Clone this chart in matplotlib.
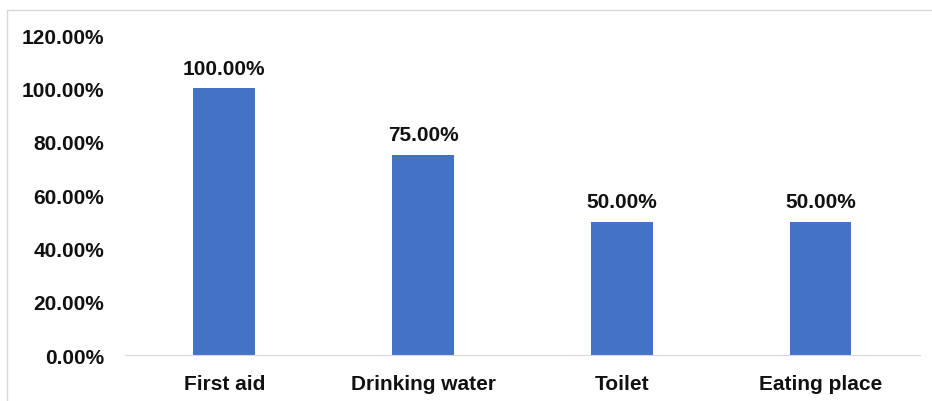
import matplotlib.pyplot as plt
from matplotlib.patches import Rectangle

# data
categories = ["First aid", "Drinking water", "Toilet", "Eating place"]
values = [100.0, 75.0, 50.0, 50.0]
yticks = [0, 20, 40, 60, 80, 100, 120]

plt.rcParams["font.family"] = ["Liberation Sans", "DejaVu Sans"]

fig = plt.figure(figsize=(9.32, 4.02), dpi=100)
ax = fig.add_axes([0.134, 0.1144, 0.853, 0.796])

# outer chart border
fig.patches.append(Rectangle((7 / 932, -0.05), 1.0, 1 - 11 / 402 + 0.05,
                             transform=fig.transFigure, fill=False,
                             edgecolor="#d9d9d9", linewidth=1.0))

x = range(len(categories))
ax.bar(x, values, width=0.31, color="#4472c4")
for xi, v in zip(x, values):
    ax.text(xi, v + 4, f"{v:.2f}%", ha="center", va="bottom",
            fontsize=15, fontweight="bold", color="#111111")

ax.set_xlim(-0.5, len(categories) - 0.5)
ax.set_ylim(0, 120)
ax.set_yticks(yticks)
ax.set_yticklabels([f"{t:.2f}%" for t in yticks])
ax.set_xticks(list(x))
ax.set_xticklabels(categories)

for lbl in ax.get_xticklabels() + ax.get_yticklabels():
    lbl.set_fontsize(15)
    lbl.set_fontweight("bold")
    lbl.set_color("#111111")

for s in ["top", "right", "left"]:
    ax.spines[s].set_visible(False)
ax.spines["bottom"].set_color("#d9d9d9")
ax.tick_params(axis="both", length=0)
ax.tick_params(axis="x", pad=14)
ax.tick_params(axis="y", pad=15)

fig.savefig("out.png", dpi=100)
